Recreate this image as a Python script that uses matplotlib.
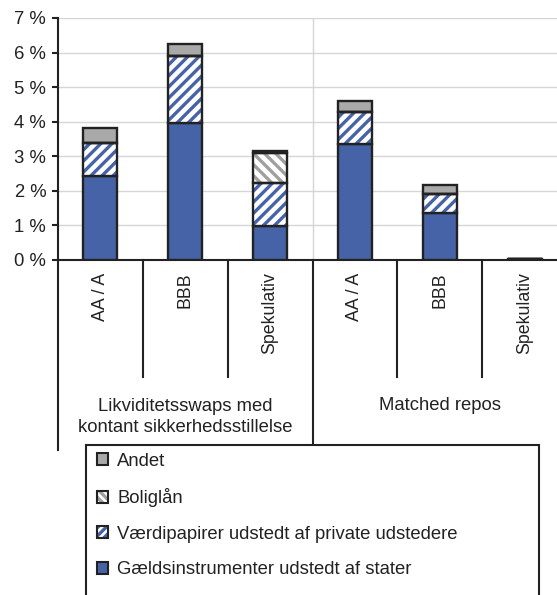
import matplotlib
matplotlib.use("Agg")
import matplotlib.pyplot as plt
from matplotlib.patches import Patch, Rectangle
import numpy as np

plt.rcParams['font.family'] = ['Liberation Sans', 'DejaVu Sans']
plt.rcParams['hatch.linewidth'] = 2.4

categories = ["AA / A", "BBB", "Spekulativ", "AA / A", "BBB", "Spekulativ"]
groups = ["Likviditetsswaps med\nkontant sikkerhedsstillelse", "Matched repos"]
yticks = [0, 1, 2, 3, 4, 5, 6, 7]
ytick_labels = ["0 %", "1 %", "2 %", "3 %", "4 %", "5 %", "6 %", "7 %"]

gaeld = [2.44, 3.96, 0.99, 3.36, 1.35, 0.03]
vaerdi = [0.94, 1.93, 1.23, 0.91, 0.55, 0.0]
bolig = [0.0, 0.0, 0.87, 0.0, 0.0, 0.0]
andet = [0.43, 0.36, 0.05, 0.34, 0.27, 0.0]

series_names = ["Gældsinstrumenter udstedt af stater",
                "Værdipapirer udstedt af private udstedere",
                "Boliglån",
                "Andet"]

BLUE = "#4663a8"
GRAY = "#a9a9a9"
HGRAY = "#a0a0a0"
EDGE = "#222222"
TXT = "#222222"

W, H = 557, 595
fig = plt.figure(figsize=(W / 100, H / 100), dpi=100)
ax_l, ax_r, ax_t, ax_b = 58, 567, 18, 260
ax = fig.add_axes([ax_l / W, 1 - ax_b / H, (ax_r - ax_l) / W, (ax_b - ax_t) / H])

x = np.arange(len(categories))
bw = 0.4
lw = 1.7

g = np.array(gaeld)
v = np.array(vaerdi)
b = np.array(bolig)
a = np.array(andet)

# Gæld
ax.bar(x, g, bw, color=BLUE, edgecolor=EDGE, linewidth=lw, zorder=3)
# Værdipapirer (hatched)
ax.bar(x, v, bw, bottom=g, color="white", edgecolor=BLUE, hatch="///", linewidth=0, zorder=3)
ax.bar(x, v, bw, bottom=g, color="none", edgecolor=EDGE, linewidth=lw, zorder=4)
# Boliglån
ax.bar(x, b, bw, bottom=g + v, color="white", edgecolor=HGRAY, hatch="\\\\\\", linewidth=0, zorder=3)
ax.bar(x, b, bw, bottom=g + v, color="none", edgecolor=EDGE, linewidth=lw, zorder=4)
# Andet
ax.bar(x, a, bw, bottom=g + v + b, color=GRAY, edgecolor=EDGE, linewidth=lw, zorder=3)

ax.set_xlim(-0.5, len(categories) - 0.5)
ax.set_ylim(0, 7)
ax.set_yticks(yticks)
ax.set_yticklabels(ytick_labels, fontsize=13.3, color=TXT)
ax.tick_params(axis='y', length=4.5, width=1.5, color=EDGE, pad=4)
ax.set_xticks(x)
ax.set_xticklabels(categories, rotation=90, fontsize=12.8, color=TXT, va='top')
ax.tick_params(axis='x', length=0, pad=9)

for s in ['top', 'right']:
    ax.spines[s].set_visible(False)
ax.spines['left'].set_linewidth(1.5)
ax.spines['bottom'].set_linewidth(1.5)
ax.spines['left'].set_color(EDGE)
ax.spines['bottom'].set_color(EDGE)

ax.yaxis.grid(True, color="#d6d6d6", linewidth=1.0, zorder=0)
ax.set_axisbelow(True)
ax.axvline(2.5, color="#d6d6d6", linewidth=1.0, zorder=0)

# separators below axis
trans = ax.get_xaxis_transform()
axh = ax_b - ax_t
def ypx(p):
    return (ax_b - p) / axh

for xs, yend in [(-0.5, 450), (0.5, 377), (1.5, 377), (2.5, 445), (3.5, 377), (4.5, 377)]:
    ax.plot([xs, xs], [0, ypx(yend)], transform=trans, color=EDGE, linewidth=1.5,
            clip_on=False, zorder=5)

# group labels
ax.text(1.0, ypx(417), groups[0], transform=trans, ha='center', va='center',
        fontsize=13.3, color=TXT, linespacing=1.25)
ax.text(4.0, ypx(406), groups[1], transform=trans, ha='center', va='center',
        fontsize=13.3, color=TXT)

# legend frame
fig.patches.append(Rectangle((86 / W, -0.05), (539 - 86) / W, 1 - 445 / H + 0.05,
                             transform=fig.transFigure, facecolor='white',
                             edgecolor=EDGE, linewidth=1.5, zorder=1))

handles = [
    Patch(facecolor=GRAY, edgecolor=EDGE, linewidth=1.5),
    (Patch(facecolor="white", edgecolor=HGRAY, hatch="\\\\\\\\", linewidth=0),
     Patch(facecolor="none", edgecolor=EDGE, linewidth=1.5)),
    (Patch(facecolor="white", edgecolor=BLUE, hatch="////", linewidth=0),
     Patch(facecolor="none", edgecolor=EDGE, linewidth=1.5)),
    Patch(facecolor=BLUE, edgecolor=EDGE, linewidth=1.5),
]
labels = [series_names[3], series_names[2], series_names[1], series_names[0]]
leg = fig.legend(handles=handles, labels=labels, loc='upper left',
                 bbox_to_anchor=(93 / W, 1 - 449 / H),
                 frameon=False, fontsize=13.3, handlelength=0.62, handleheight=0.62,
                 handletextpad=0.5, labelspacing=1.0, borderaxespad=0, borderpad=0.2)
for t in leg.get_texts():
    t.set_color(TXT)

fig.savefig("out.png", dpi=100)
